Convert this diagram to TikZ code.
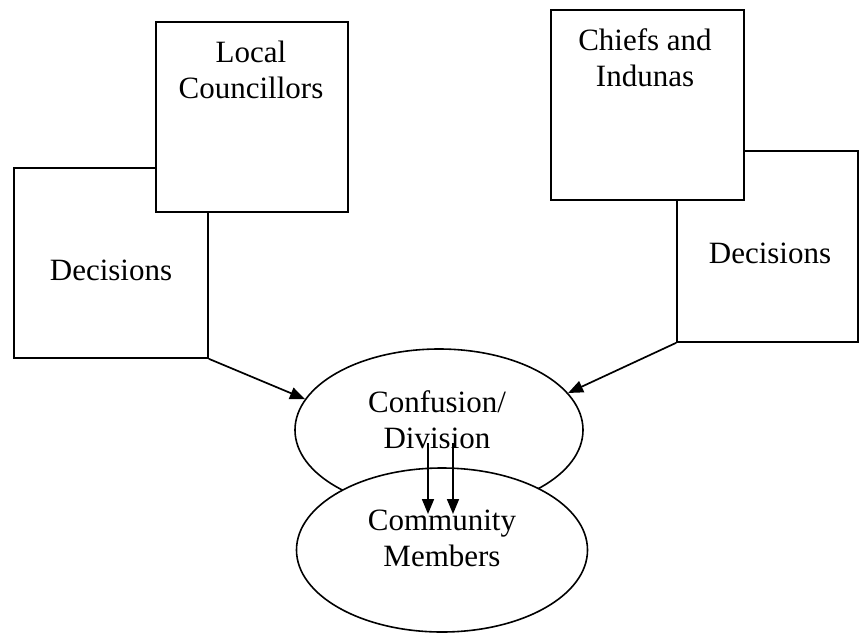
\documentclass[tikz,border=0pt]{standalone}
\usepackage{fontspec}
\setmainfont{Liberation Serif}
\usetikzlibrary{shapes.geometric,arrows.meta}
\begin{document}
\begin{tikzpicture}[x=1pt,y=-1pt,
  box/.style={draw,line width=1.6pt,fill=white,rectangle,inner sep=0pt},
  oval/.style={draw,line width=1.6pt,fill=white,ellipse,inner sep=0pt},
  lbl/.style={font=\fontsize{31}{36}\selectfont,align=center,inner sep=0pt},
  arr/.style={line width=1.7pt,-{Triangle[length=15pt,width=12pt]}}]
\useasboundingbox (0,0) rectangle (859,635);
% left side
\node[box,minimum width=194pt,minimum height=190pt] (ldec) at (111,263) {};
\node[box,minimum width=192pt,minimum height=190pt] (local) at (252,117) {};
\node[lbl] (localt) at (251,70) {Local\\Councillors};
\node[lbl] (ldect) at (111,270) {Decisions};
% right side
\node[box,minimum width=181pt,minimum height=191pt] (rdec) at (767.5,246.5) {};
\node[box,minimum width=193pt,minimum height=190pt] (chiefs) at (647.5,105) {};
\node[lbl] (chiefst) at (645,58) {Chiefs and\\Indunas};
\node[lbl] (rdect) at (770,253) {Decisions};
% ellipses
\node[oval,minimum width=288pt,minimum height=162pt] (conf) at (439,430) {};
\node[lbl] (conft) at (437,420) {Confusion/\\Division};
\node[oval,minimum width=291pt,minimum height=164pt] (comm) at (442,550) {};
\node[lbl] (commt) at (442,538) {Community\\Members};
% connectors
\draw[arr] (ldec.south east) -- (conf.167);
\draw[arr] (rdec.south west) -- (conf.16);
\coordinate (a1s) at (428,443);
\coordinate (a1e) at (428,514);
\coordinate (a2s) at (453,443);
\coordinate (a2e) at (453,514);
\draw[arr] (a1s) -- (a1e);
\draw[arr] (a2s) -- (a2e);
\end{tikzpicture}
\end{document}
